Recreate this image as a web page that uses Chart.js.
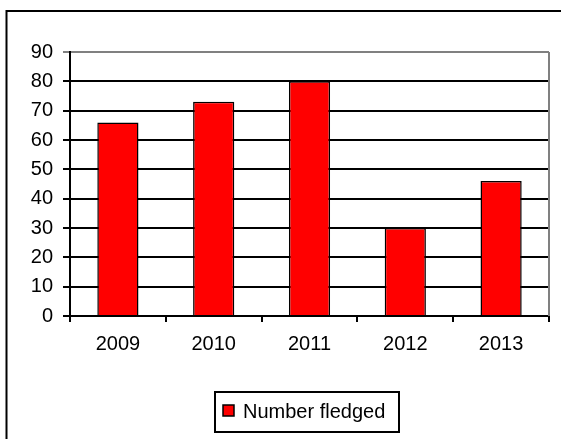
<!DOCTYPE html>
<html>
<head>
<meta charset="utf-8">
<script src="https://cdn.jsdelivr.net/npm/chart.js@4"></script>
<style>
  body { margin: 0; background: #fff; }
  canvas { display: block; }
</style>
</head>
<body>
<canvas id="fledgedChart" width="561" height="439"></canvas>
<script>
// data
const years = ['2009', '2010', '2011', '2012', '2013'];
const numberFledged = [66, 73, 80, 30, 46];
const seriesLabel = 'Number fledged';
const yMax = 90;
const yStep = 10;

// frame, right border of the plot and the boxed legend
const excelLook = {
    id: 'excelLook',
    beforeDraw(chart) {
        const c = chart.ctx;
        c.save();
        c.fillStyle = '#fff';
        c.fillRect(0, 0, chart.width, chart.height);
        c.restore();
    },
    afterDraw(chart) {
        const c = chart.ctx;
        const a = chart.chartArea;
        c.save();
        // outer frame (runs off the right and bottom edges)
        c.strokeStyle = '#000';
        c.lineWidth = 2;
        c.beginPath();
        c.moveTo(561, 11);
        c.lineTo(6.5, 11);
        c.lineTo(6.5, 439);
        c.stroke();
        // grey right edge of plot area
        c.strokeStyle = '#808080';
        c.lineWidth = 2;
        c.beginPath();
        c.moveTo(a.right, a.top);
        c.lineTo(a.right, a.bottom);
        c.stroke();
        // legend
        const ds = chart.data.datasets[0];
        c.strokeStyle = '#000';
        c.lineWidth = 2;
        c.strokeRect(215, 392, 184, 40);
        c.fillStyle = ds.backgroundColor;
        c.fillRect(223, 405, 11, 11);
        c.lineWidth = 1.5;
        c.strokeRect(223, 405, 11, 11);
        c.fillStyle = '#000';
        c.font = '20px "Liberation Sans", Arial, sans-serif';
        c.textBaseline = 'middle';
        c.fillText(ds.label, 243, 412);
        c.restore();
    }
};

new Chart(document.getElementById('fledgedChart'), {
    type: 'bar',
    data: {
        labels: years,
        datasets: [{
            label: seriesLabel,
            data: numberFledged,
            backgroundColor: '#ff0000',
            borderColor: '#000',
            borderWidth: 1.5,
            categoryPercentage: 1,
            barPercentage: 0.43
        }]
    },
    options: {
        responsive: false,
        animation: false,
        devicePixelRatio: 1,
        layout: { padding: { top: 52, right: 12, left: 0, bottom: 0 } },
        plugins: { legend: { display: false }, tooltip: { enabled: false } },
        scales: {
            x: {
                grid: { offset: true, drawOnChartArea: false, tickLength: 6, color: '#000', lineWidth: 2 },
                border: { color: '#000', width: 2 },
                ticks: { color: '#000', padding: 10, font: { family: '"Liberation Sans", Arial', size: 20 } },
                afterFit(scale) { scale.height = 123; }
            },
            y: {
                min: 0,
                max: yMax,
                grid: {
                    color: ctx => ctx.tick && ctx.tick.value === yMax ? '#808080' : '#000',
                    lineWidth: 2,
                    tickLength: 7
                },
                border: { color: '#000', width: 2 },
                ticks: { stepSize: yStep, color: '#000', padding: 10, font: { family: '"Liberation Sans", Arial', size: 20 } },
                afterFit(scale) { scale.width = 70; }
            }
        }
    },
    plugins: [excelLook]
});
</script>
</body>
</html>
